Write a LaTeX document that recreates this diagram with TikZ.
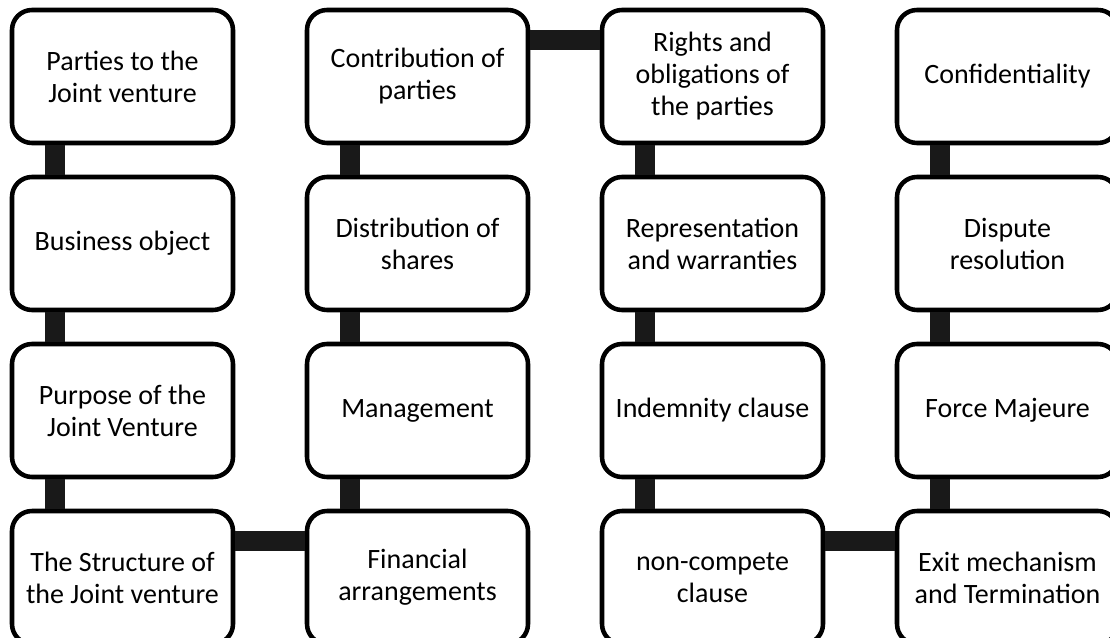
\documentclass[tikz,border=0pt]{standalone}
\usepackage{fontspec}
\setmainfont{Carlito}
\usepackage{tikz}

\begin{document}
\begin{tikzpicture}[x=0.75pt,y=-0.75pt,
  box/.style={draw, line width=3.4pt, rounded corners=15pt, fill=white,
    minimum width=165.75pt, minimum height=99.75pt, align=center,
    font=\fontsize{21}{24}\selectfont},
  bar/.style={line width=15pt, color=black!90}]
\useasboundingbox (0,0) rectangle (1110,638);
\clip (0,0) rectangle (1110,638);
% column 1
\node[box] (parties) at (122.5,76.5) {Parties to the\\Joint venture};
\node[box] (object) at (122.5,243.5) {Business object};
\node[box] (purpose) at (122.5,410.5) {Purpose of the\\Joint Venture};
\node[box] (structure) at (122.5,577.5) {The Structure of\\the Joint venture};
% column 2
\node[box] (contrib) at (417.5,76.5) {Contribution of\\parties};
\node[box] (shares) at (417.5,243.5) {Distribution of\\shares};
\node[box] (mgmt) at (417.5,410.5) {Management};
\node[box] (finance) at (417.5,577.5) {Financial\\arrangements};
% column 3
\node[box] (rights) at (712.5,76.5) {Rights and\\obligations of\\the parties};
\node[box] (reps) at (712.5,243.5) {Representation\\and warranties};
\node[box] (indem) at (712.5,410.5) {Indemnity clause};
\node[box] (noncomp) at (712.5,577.5) {non-compete\\clause};
% column 4
\node[box] (confid) at (1007.5,76.5) {Confidentiality};
\node[box] (dispute) at (1007.5,243.5) {Dispute\\resolution};
\node[box] (force) at (1007.5,410.5) {Force Majeure};
\node[box] (exit) at (1007.5,577.5) {Exit mechanism\\and Termination};
% vertical links
\draw[bar] ([xshift=33.75pt]parties.south west) -- ([xshift=33.75pt]object.north west);
\draw[bar] ([xshift=33.75pt]object.south west) -- ([xshift=33.75pt]purpose.north west);
\draw[bar] ([xshift=33.75pt]purpose.south west) -- ([xshift=33.75pt]structure.north west);
\draw[bar] ([xshift=33.75pt]contrib.south west) -- ([xshift=33.75pt]shares.north west);
\draw[bar] ([xshift=33.75pt]shares.south west) -- ([xshift=33.75pt]mgmt.north west);
\draw[bar] ([xshift=33.75pt]mgmt.south west) -- ([xshift=33.75pt]finance.north west);
\draw[bar] ([xshift=33.75pt]rights.south west) -- ([xshift=33.75pt]reps.north west);
\draw[bar] ([xshift=33.75pt]reps.south west) -- ([xshift=33.75pt]indem.north west);
\draw[bar] ([xshift=33.75pt]indem.south west) -- ([xshift=33.75pt]noncomp.north west);
\draw[bar] ([xshift=33.75pt]confid.south west) -- ([xshift=33.75pt]dispute.north west);
\draw[bar] ([xshift=33.75pt]dispute.south west) -- ([xshift=33.75pt]force.north west);
\draw[bar] ([xshift=33.75pt]force.south west) -- ([xshift=33.75pt]exit.north west);
% horizontal links
\draw[bar] ([yshift=-24pt]structure.north east) -- ([yshift=-24pt]finance.north west);
\draw[bar] ([yshift=-24pt]contrib.north east) -- ([yshift=-24pt]rights.north west);
\draw[bar] ([yshift=-24pt]noncomp.north east) -- ([yshift=-24pt]exit.north west);
\end{tikzpicture}
\end{document}
